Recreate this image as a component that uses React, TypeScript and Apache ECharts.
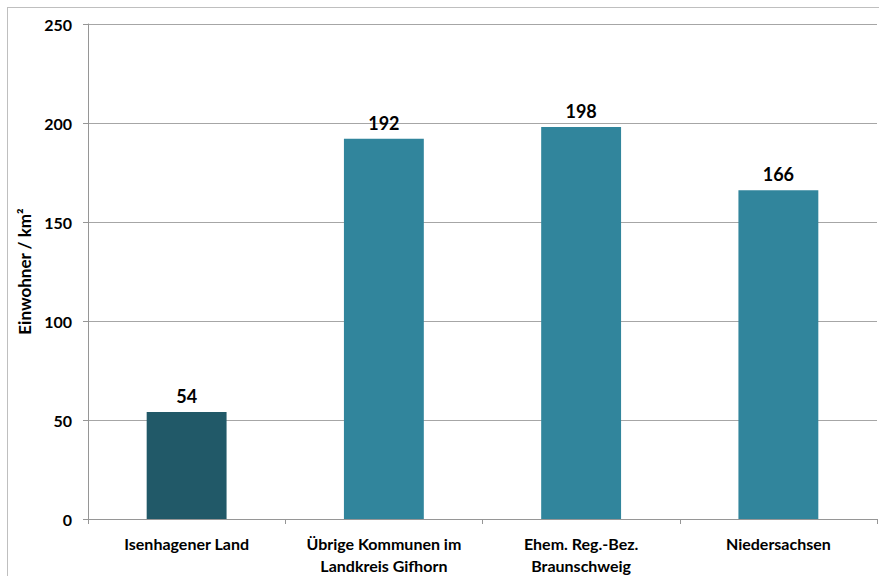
import React, { useEffect, useRef } from "react";
import * as echarts from "echarts";

const categories = [
  "Isenhagener Land",
  "Übrige Kommunen im\nLandkreis Gifhorn",
  "Ehem. Reg.-Bez.\nBraunschweig",
  "Niedersachsen",
];
const values = [54, 192, 198, 166];
const barColors = ["#215968", "#31859C", "#31859C", "#31859C"];
const yTicks = { min: 0, max: 250, interval: 50 };
const yAxisName = "Einwohner / km²";

const FONT = "Lato, 'Open Sans', sans-serif";

export default function App() {
  const ref = useRef<HTMLDivElement>(null);
  useEffect(() => {
    document.body.style.margin = "0";
    const chart = echarts.init(ref.current!, null, { renderer: "svg" });
    chart.setOption({
      animation: false,
      backgroundColor: "#ffffff",
      grid: { left: 88, top: 24, right: 2, bottom: 55, containLabel: false },
      graphic: [
        {
          type: "line",
          shape: { x1: 7, y1: 7.5, x2: 879, y2: 7.5 },
          style: { stroke: "#BFBFBF", lineWidth: 1 },
        },
        {
          type: "line",
          shape: { x1: 7.5, y1: 7, x2: 7.5, y2: 576 },
          style: { stroke: "#BFBFBF", lineWidth: 1 },
        },
      ],
      xAxis: {
        type: "category",
        data: categories,
        axisLine: { show: true, lineStyle: { color: "#969696", width: 1 } },
        axisTick: { show: true, alignWithLabel: false, length: 5, lineStyle: { color: "#969696" } },
        axisLabel: {
          color: "#000",
          fontFamily: FONT,
          fontWeight: "bold",
          fontSize: 16,
          lineHeight: 22,
          margin: 13,
          interval: 0,
        },
      },
      yAxis: {
        type: "value",
        min: yTicks.min,
        max: yTicks.max,
        interval: yTicks.interval,
        name: yAxisName,
        nameLocation: "middle",
        nameGap: 55,
        nameRotate: 90,
        nameTextStyle: { color: "#000", fontFamily: FONT, fontWeight: "bold", fontSize: 17 },
        axisLine: { show: true, lineStyle: { color: "#969696", width: 1 } },
        axisTick: { show: true, length: 5, lineStyle: { color: "#969696" } },
        axisLabel: {
          color: "#000",
          fontFamily: FONT,
          fontWeight: "bold",
          fontSize: 16,
          margin: 16,
        },
        splitLine: { show: true, lineStyle: { color: "#A6A6A6", width: 1 } },
      },
      series: [
        {
          type: "bar",
          data: values.map((v, i) => ({ value: v, itemStyle: { color: barColors[i] } })),
          barWidth: "40.5%",
          label: {
            show: true,
            position: "top",
            distance: 7,
            color: "#000",
            fontFamily: FONT,
            fontWeight: "bold",
            fontSize: 18,
          },
        },
      ],
    });
    return () => chart.dispose();
  }, []);
  return (
    <div
      ref={ref}
      style={{ position: "fixed", left: 0, top: 0, width: 879, height: 576 }}
    />
  );
}
